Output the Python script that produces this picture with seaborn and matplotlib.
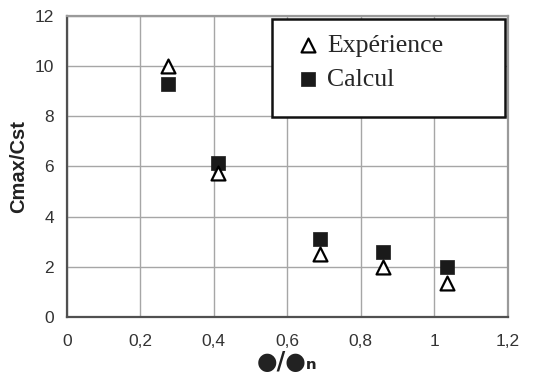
import matplotlib
matplotlib.use("Agg")
import matplotlib.pyplot as plt
from matplotlib.patches import Rectangle
import seaborn as sns
import pandas as pd

# Ratio of forcing to natural frequency
freq_ratio = [0.275, 0.413, 0.69, 0.862, 1.035]
# Peak / static concentration ratio
exp_values = [10.0, 5.72, 2.5, 2.0, 1.37]
calc_values = [9.27, 6.15, 3.1, 2.6, 2.0]

x_ticks = [0, 0.2, 0.4, 0.6, 0.8, 1.0, 1.2]
x_tick_labels = ["0", "0,2", "0,4", "0,6", "0,8", "1", "1,2"]
y_ticks = [0, 2, 4, 6, 8, 10, 12]

sns.set_style("white")
plt.rcParams["font.family"] = ["Liberation Sans", "DejaVu Sans"]

df_exp = pd.DataFrame({"x": freq_ratio, "y": exp_values})
df_calc = pd.DataFrame({"x": freq_ratio, "y": calc_values})

fig = plt.figure(figsize=(5.38, 3.85), dpi=100)
ax = fig.add_axes([0.124, 0.1766, 0.8197, 0.7826])

sns.scatterplot(data=df_calc, x="x", y="y", ax=ax, marker="s", s=90,
                color="#1a1a1a", edgecolor="#1a1a1a", linewidth=0.5,
                zorder=3, label="Calcul", legend=False)
sns.scatterplot(data=df_exp, x="x", y="y", ax=ax, marker="^", s=100,
                facecolor="white", edgecolor="black", linewidth=1.6,
                zorder=4, label="Expérience", legend=False)

ax.set_xlim(0, 1.2)
ax.set_ylim(0, 12)
ax.set_xticks(x_ticks)
ax.set_xticklabels(x_tick_labels)
ax.set_yticks(y_ticks)
ax.grid(True, color="#a6a6a6", linewidth=1.0)
ax.set_axisbelow(True)

for side in ["top", "right"]:
    ax.spines[side].set_color("#9a9a9a")
    ax.spines[side].set_linewidth(1.6)
for side in ["left", "bottom"]:
    ax.spines[side].set_color("#505050")
    ax.spines[side].set_linewidth(1.6)

ax.tick_params(axis="both", direction="out", length=4, width=1.2,
               color="#505050", labelsize=12.5, labelcolor="#333333", pad=5)
ax.tick_params(axis="x", pad=8)

ax.set_ylabel("Cmax/Cst", fontsize=14.5, fontweight="bold", color="#222222",
              labelpad=5)
ax.set_xlabel("●/●ₙ", fontsize=17, fontweight="bold", color="#222222",
              family=["DejaVu Sans"], labelpad=1)

# Legend box
ax.add_patch(Rectangle((0.466, 0.664), 0.528, 0.324, transform=ax.transAxes,
                       facecolor="white", edgecolor="#111111", linewidth=1.8,
                       zorder=5))
handles, labels = ax.get_legend_handles_labels()
order = [labels.index("Expérience"), labels.index("Calcul")]
leg = ax.legend([handles[i] for i in order], [labels[i] for i in order],
                loc="upper left", bbox_to_anchor=(0.494, 0.975), frameon=False,
                prop={"family": "Liberation Serif", "size": 18.5},
                handletextpad=0.25, labelspacing=0.45, handlelength=1.0,
                borderaxespad=0)
leg.set_zorder(6)

fig.savefig("out.png", dpi=100)
